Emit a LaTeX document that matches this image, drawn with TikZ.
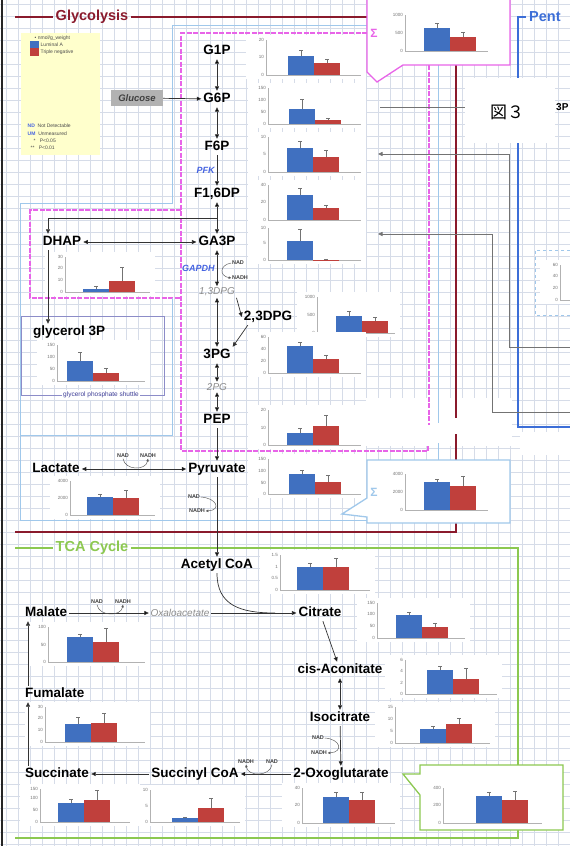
\documentclass[tikz,border=0pt]{standalone}
\usepackage{fontspec}
\setmainfont{Liberation Sans}
\setsansfont{Liberation Sans}
\newfontfamily\cjk{Noto Sans CJK JP}
\usetikzlibrary{positioning, arrows.meta}

\definecolor{gridcol}{RGB}{214,220,232}
\definecolor{barblue}{RGB}{64,112,192}
\definecolor{barred}{RGB}{192,64,60}
\definecolor{glyred}{RGB}{138,26,44}
\definecolor{tcagreen}{RGB}{140,200,80}
\definecolor{shuntpink}{RGB}{232,100,232}
\definecolor{skyline}{RGB}{160,200,235}
\definecolor{pentblue}{RGB}{60,110,215}
\definecolor{legendbg}{RGB}{255,255,204}
\definecolor{enzblue}{RGB}{70,100,225}
\definecolor{shuttle}{RGB}{140,140,200}
\definecolor{shuttletext}{RGB}{60,60,150}

\newcommand{\chartframe}[6]{%
  \fill[white] (#2-20,#3-5) rectangle (#5,#4+4);
  \draw[axisline] (#2,#3) -- (#2,#4) -- (#5-5,#4);
  \foreach \ty/\tl [count=\k] in {#6}
    \node[tick] (#1t\k) at (#2-1.5,\ty) {\tl};%
}
\newcommand{\chartbars}[6]{%
  \fill[barblue] (#1,#3) rectangle (#1+26,#2);
  \fill[barred] (#1+26,#5) rectangle (#1+52,#2);
  \draw[errbar] (#1+13,#3) -- (#1+13,#4) (#1+11,#4) -- (#1+15,#4)
    (#1+39,#5) -- (#1+39,#6) (#1+37,#6) -- (#1+41,#6);%
}

\begin{document}
\begin{tikzpicture}[
    x=1pt, y=-1pt,
    font=\sffamily,
    >={Triangle[length=4.5pt, width=4pt]},
    metab/.style={font=\fontsize{13.5}{15}\selectfont\bfseries, inner sep=2pt, text height=9.5pt, text depth=2.5pt},
    minor/.style={font=\fontsize{10}{12}\selectfont\itshape, text=black!45, inner sep=1.5pt},
    enzyme/.style={font=\fontsize{9}{11}\selectfont\bfseries\itshape, text=enzblue, inner sep=1pt},
    cofac/.style={font=\fontsize{5.5}{6}\selectfont\bfseries, text=black!75, inner sep=0.6pt},
    header/.style={font=\fontsize{14.5}{16}\selectfont\bfseries, inner sep=3pt},
    sigma/.style={font=\fontsize{12}{14}\selectfont\bfseries, inner sep=0pt},
    tick/.style={anchor=east, font=\fontsize{4.5}{5}\selectfont, text=black!55, inner sep=0.5pt},
    legend/.style={anchor=west, font=\fontsize{5}{6}\selectfont, text=black!70, inner sep=0.5pt},
    flow/.style={draw=black!80, line width=0.7pt},
    cofarrow/.style={draw=black!65, line width=0.45pt, -{Triangle[length=2.6pt, width=2.4pt]}},
    axisline/.style={draw=black!30, line width=0.5pt},
    errbar/.style={draw=black!55, line width=0.5pt},
    gridline/.style={draw=gridcol, line width=0.35pt},
    zone/.style={line width=0.9pt},
    link/.style={draw=black!55, line width=0.8pt}
]

\useasboundingbox (0,0) rectangle (570,846);
\fill[white] (0,0) rectangle (570,846);
\foreach \gx in {6,18,...,570} \draw[gridline] (\gx,0) -- (\gx,846);
\foreach \gy in {4,16,...,846} \draw[gridline] (0,\gy) -- (570,\gy);
\fill[white] (366,398) rectangle (512,446);
\fill[white] (520,432) rectangle (570,455);

\draw[black!85, line width=1.3pt] (2,0) -- (2,846);

\node[header, text=glyred] (glyhead) at (92,17) {Glycolysis};
\node[header, text=pentblue, anchor=west] (penthead) at (526,17) {Pent};
\node[header, text=tcagreen] (tcahead) at (92,548) {TCA Cycle};

\draw[glyred, line width=1.4pt] (15,17) -- (glyhead.west) (glyhead.east) -- (367,17);
\draw[glyred, line width=1.4pt] (456,65) -- (456,418);
\draw[glyred, line width=1.8pt] (456,434) -- (456,532) -- (15,532);
\draw[draw=shuntpink, line width=1.3pt, dash pattern=on 5pt off 1.5pt] (367,33) -- (181,33) -- (181,451) -- (428,451) -- (428,444)
    (429,65) -- (429,425) (181,210) -- (30,210) -- (30,298) -- (181,298);
\draw[skyline, zone] (367,25) -- (172,25) -- (172,203) -- (20,203) -- (20,520) -- (367,520)
    (172,298) -- (172,435) -- (20,435) (438,65) -- (438,423) (438,443) -- (438,460);
\draw[pentblue, line width=1.5pt] (penthead.west) -- (518,17) -- (518,427) -- (570,427);
\draw[tcagreen, line width=1.4pt] (15,548) -- (tcahead.west) (tcahead.east) -- (518,548) -- (518,838) -- (15,838);

\coordinate (f6pin) at (378,154);
\coordinate (ga3pin) at (378,234);
\coordinate (ppout1) at (570,347);
\coordinate (ppout2) at (570,412);
\draw[link, ->] (ppout1) -- (509,347) -- (509,154) -- (f6pin);
\draw[link, ->] (ppout2) -- (492,412) -- (492,234) -- (ga3pin);
\draw[link] (380,107) -- (465,107);

\draw[shuntpink, line width=1.3pt, fill=white] (367,-3) -- (367,72) -- (377,82) -- (403,65) -- (510,65) -- (510,-3);
\draw[skyline, line width=1.3pt, fill=white] (367,460) -- (510,460) -- (510,523) -- (367,523) -- (367,517) -- (342,514) -- (367,498) -- cycle;
\draw[tcagreen, line width=1.3pt, fill=white] (420,765) -- (563,765) -- (563,830) -- (420,830) -- (420,795) -- (403,774) -- (420,774) -- cycle;
\node[sigma, text=shuntpink] (sigpink) at (374,33) {Σ};
\node[sigma, text=skyline] (sigsky) at (374,492) {Σ};
\node[sigma, text=tcagreen] (siggreen) at (428,798) {Σ};

\draw[shuttle, line width=0.9pt] (21,316) rectangle (164,395);
\node[font=\fontsize{6.5}{7}\selectfont, text=shuttletext, fill=white, inner sep=1.5pt] (shuttle) at (101,395) {glycerol phosphate shuttle};

\fill[white] (465,78) rectangle (555,143);
\node[font=\cjk\fontsize{17}{19}\selectfont, inner sep=0pt] (figno) at (507,112) {図３};
\node[font=\fontsize{10}{12}\selectfont\bfseries, anchor=west, inner sep=0pt] (pp3p) at (556,107) {3P};

\fill[legendbg] (21,33) rectangle (100,155);
\node[legend] (unit) at (34,38) {\textbullet\ nmol/g\_weight};
\fill[barblue] (30,41) rectangle (39,48);
\fill[barred] (30,48) rectangle (39,56);
\node[legend] (luma) at (40,45) {Luminal A};
\node[legend] (tneg) at (40,52) {Triple negative};
\node[legend] (ndkey) at (27,126) {\textcolor{enzblue}{\textbf{ND}}\ \ Not Detectable};
\node[legend] (umkey) at (27,134) {\textcolor{enzblue}{\textbf{UM}}\ \ Unmeasured};
\node[legend] (p05) at (33,141) {*\ \ \ P<0.05};
\node[legend] (p01) at (30,148) {**\ \ \ P<0.01};

\chartframe{cgip}{266}{40}{75}{366}{40/20,57/10,75/0}
\chartbars{288}{75}{56}{50}{63}{59}
\chartframe{cgsp}{268}{88}{124}{366}{88/150,100/100,112/50,124/0}
\chartbars{289}{124}{109}{99}{120}{118}
\chartframe{cfsp}{268}{137}{172}{366}{137/10,154/5,172/0}
\chartbars{287}{172}{148}{141}{157}{150}
\chartframe{cfdp}{268}{185}{220}{366}{185/40,202/20,220/0}
\chartbars{287}{220}{195}{188}{208}{205}
\chartframe{cgap}{268}{228}{260}{366}{228/10,243/5,260/0}
\chartbars{287}{260}{241}{229}{259.5}{259}
\chartframe{cdpg}{317}{297}{333}{400}{297/1000,315/500,333/0}
\chartbars{336}{333}{316}{311}{321}{317}
\chartframe{cpg}{268}{337}{373}{366}{337/60,349/40,361/20,373/0}
\chartbars{287}{373}{346}{342}{359}{355}
\chartframe{cpep}{268}{410}{445}{366}{410/20,428/10,445/0}
\chartbars{287}{445}{433}{428}{426}{415}
\chartframe{cpyr}{268}{459}{494}{366}{459/150,471/100,483/50,494/0}
\chartbars{289}{494}{474}{470}{482}{475}
\chartframe{csigp}{405}{15}{51}{493}{15/1000,33/500,51/0}
\chartbars{424}{51}{28}{23}{37}{32}
\chartframe{csigs}{405}{474}{510}{493}{474/4000,492/2000,510/0}
\chartbars{424}{510}{482}{479}{486}{476}
\chartframe{cdhap}{65}{257}{292}{155}{257/30,268/20,280/10,292/0}
\chartbars{83}{292}{289}{286}{281}{267}
\chartframe{cglp}{57}{345}{381}{150}{345/150,357/100,369/50,381/0}
\chartbars{67}{381}{361}{352}{373}{368}
\chartframe{clac}{70}{481}{515}{160}{481/4000,498/2000,515/0}
\chartbars{87}{515}{497}{494}{498}{490}
\chartframe{cacoa}{280}{555}{590}{375}{555/1.5,567/1,578/0.5,590/0}
\chartbars{297}{590}{567}{563}{567}{558}
\chartframe{ccit}{377}{603}{638}{470}{603/150,614/100,626/50,638/0}
\chartbars{396}{638}{615}{612}{627}{623}
\chartframe{ccis}{405}{660}{694}{502}{660/6,671/4,683/2,694/0}
\chartbars{427}{694}{670}{666}{679}{668}
\chartframe{ciso}{395}{707}{743}{495}{707/15,719/10,731/5,743/0}
\chartbars{420}{743}{729}{726}{724}{718}
\chartframe{coxo}{302}{788}{823}{400}{788/40,805/20,823/0}
\chartbars{323}{823}{797}{792}{800}{792}
\chartframe{csigg}{443}{788}{823}{547}{788/400,805/200,823/0}
\chartbars{476}{823}{796}{792}{800}{791}
\chartframe{cmal}{48}{627}{662}{150}{627/100,645/50,662/0}
\chartbars{67}{662}{637}{634}{642}{628}
\chartframe{cfum}{45}{707}{742}{150}{707/30,718/20,730/10,742/0}
\chartbars{65}{742}{724}{717}{723}{713}
\chartframe{csuc}{40}{789}{822}{140}{789/150,798/100,810/50,822/0}
\chartbars{58}{822}{803}{799}{800}{790}
\chartframe{csca}{150}{790}{822}{245}{790/10,806/5,822/0}
\chartbars{172}{822}{818}{817}{808}{798}
\chartframe{cpent}{560}{265}{300}{600}{265/60,276/40,288/20,300/0}
\draw[skyline, zone, dashed] (570,250) -- (535,250) -- (535,315) -- (570,315);

\node[metab] (g1p) at (217,51) {G1P};
\node[metab] (g6p) at (217,99) {G6P};
\node[metab] (f6p) at (217,147) {F6P};
\node[metab] (f16dp) at (217,194) {F1,6DP};
\node[metab] (ga3p) at (217,242) {GA3P};
\node[metab] (dhap) at (62,242) {DHAP};
\node[minor] (dpg13) at (217,292) {1,3DPG};
\node[metab] (dpg23) at (268,317) {2,3DPG};
\node[metab] (pg3) at (217,355) {3PG};
\node[minor] (pg2) at (217,387) {2PG};
\node[metab] (pep) at (217,420) {PEP};
\node[metab] (pyr) at (217,469) {Pyruvate};
\node[metab] (lac) at (56,469) {Lactate};
\node[metab, anchor=west] (g3p) at (31,332) {glycerol 3P};
\node[metab] (acoa) at (217,565) {Acetyl CoA};
\node[metab] (cit) at (320,613) {Citrate};
\node[minor] (oaa) at (180,613) {Oxaloacetate};
\node[metab, anchor=west] (mal) at (23,613) {Malate};
\node[metab, anchor=west] (fum) at (23,694) {Fumalate};
\node[metab, anchor=west] (suc) at (23,774) {Succinate};
\node[metab] (sca) at (195,774) {Succinyl CoA};
\node[metab] (oxo) at (341,774) {2-Oxoglutarate};
\node[metab] (cis) at (340,670) {cis-Aconitate};
\node[metab] (iso) at (340,718) {Isocitrate};
\node[fill=black!30, font=\fontsize{9.5}{11}\selectfont\bfseries\itshape, text=black!75, minimum width=52pt, minimum height=16pt, inner sep=1pt] (glc) at (137,98) {Glucose};

\path[flow]
    (g1p) edge[<->] (g6p)
    (glc) edge[->] (g6p)
    (g6p) edge[<->] (f6p)
    (f6p) edge[->] node[enzyme, left=1pt] (pfk) {PFK} (f16dp)
    (f16dp) edge[<->] (ga3p)
    (dhap) edge[<->] (ga3p)
    (ga3p) edge[<->] node[enzyme, left=1pt] (gapdh) {GAPDH} (dpg13)
    (dpg13) edge[<->] (pg3)
    (dpg13.south east) edge[->] (dpg23.west)
    (pg3) edge[<->] (pg2)
    (pg2) edge[<->] (pep)
    (pep) edge[->] (pyr)
    (lac) edge[<->] (pyr)
    (pyr) edge[->] (acoa)
    (mal) edge[->] (oaa)
    (oaa) edge[->] (cit)
    (cit) edge[->] (cis)
    (cis) edge[<->] (iso)
    (iso) edge[->] (oxo)
    (oxo) edge[->] (sca)
    (sca) edge[->] (suc);

\coordinate (split) at (217,218);
\coordinate (merge) at (275,613);
\draw[flow, ->] (split) -| ([xshift=-14pt]dhap.north);
\draw[flow, ->] ([xshift=-14pt]dhap.south) -- ([xshift=-14pt]dhap.south |- g3p.north);
\draw[flow, ->] ([xshift=6pt]dpg23.south west) -- (pg3.north east);
\draw[flow] (acoa.south) .. controls +(0,32) and +(-35,0) .. (merge);
\draw[flow, ->] ([xshift=5pt]suc.north west) -- ([xshift=5pt]fum.south west);
\draw[flow, ->] ([xshift=5pt]fum.north west) -- ([xshift=5pt]mal.south west);

\node[cofac] (nad1) at (238,263) {NAD};
\node[cofac] (nadh1) at (240,278) {NADH};
\node[cofac] (nad2) at (123,456) {NAD};
\node[cofac] (nadh2) at (148,456) {NADH};
\node[cofac] (nad3) at (194,497) {NAD};
\node[cofac] (nadh3) at (197,511) {NADH};
\node[cofac] (nad4) at (97,602) {NAD};
\node[cofac] (nadh4) at (123,602) {NADH};
\node[cofac] (nad5) at (318,738) {NAD};
\node[cofac] (nadh5) at (319,753) {NADH};
\node[cofac] (nadh6) at (246,762) {NADH};
\node[cofac] (nad6) at (272,762) {NAD};
\draw[cofarrow] (nad1.west) .. controls +(-12,2) and +(-12,-2) .. (nadh1.west);
\draw[cofarrow] (nad2.south) .. controls +(2,12) and +(-2,12) .. (nadh2.south);
\draw[cofarrow] (nad3.east) .. controls +(16,1) and +(16,-1) .. (nadh3.east);
\draw[cofarrow] (nad4.south) .. controls +(2,12) and +(-2,12) .. (nadh4.south);
\draw[cofarrow] (nad5.east) .. controls +(16,1) and +(16,-1) .. (nadh5.east);
\draw[cofarrow] (nad6.south) .. controls +(-2,12) and +(2,12) .. (nadh6.south);

\end{tikzpicture}
\end{document}
